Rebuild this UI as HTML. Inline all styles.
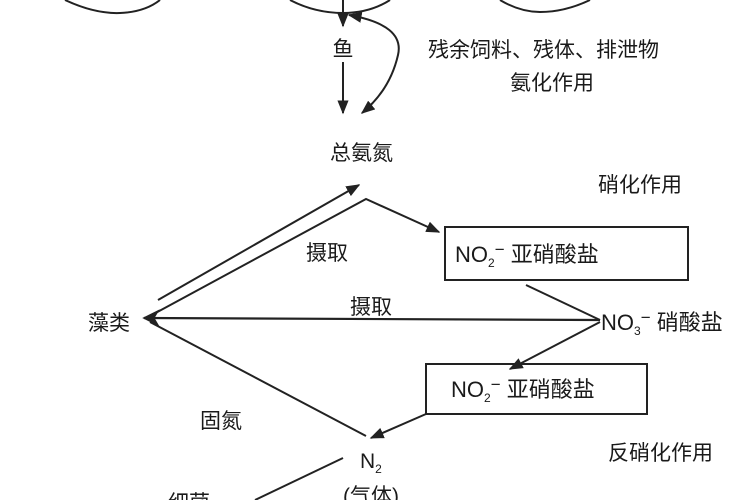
<!DOCTYPE html>
<html><head><meta charset="utf-8"><style>
html,body{margin:0;padding:0;background:#fff;width:750px;height:500px;overflow:hidden}
text{font-family:"Liberation Sans","Noto Sans CJK SC",sans-serif;fill:#1a1a1a}
</style></head><body>
<svg width="750" height="500" viewBox="0 0 750 500" xmlns="http://www.w3.org/2000/svg">
<defs>
<marker id="a" viewBox="0 0 10 10" refX="9" refY="5" markerWidth="7" markerHeight="7" orient="auto-start-reverse"><path d="M0,1 L10,5 L0,9 z" fill="#222"/></marker>
<marker id="b" viewBox="0 0 10 10" refX="9" refY="5" markerWidth="8" markerHeight="8" orient="auto"><path d="M0,0 L10,5 L0,10 L3,5 z" fill="#222"/></marker>
</defs>
<g stroke="#222" stroke-width="2" fill="none">
<path d="M65,0 Q95,14 120,13 Q145,12 160,0"/>
<path d="M290,0 Q315,13 343,13 Q370,13 390,0"/>
<path d="M500,0 Q520,12 540,12 Q565,12 590,0"/>
<line x1="343" y1="0" x2="343" y2="26" marker-end="url(#a)"/>
<line x1="343" y1="62" x2="343" y2="113" marker-end="url(#a)"/>
<path d="M349,15 Q405,25 398,55 Q390,90 362,113" marker-start="url(#a)" marker-end="url(#a)"/>
<line x1="158" y1="300" x2="359" y2="185" marker-end="url(#a)"/>
<polyline points="150,316 366,199 439,232" marker-end="url(#a)"/>
<rect x="445" y="227" width="243" height="53"/>
<line x1="526" y1="285" x2="600" y2="320"/>
<line x1="600" y1="320" x2="144" y2="318" marker-end="url(#b)" stroke-width="2.2"/>
<line x1="600" y1="322" x2="510" y2="369" marker-end="url(#a)"/>
<rect x="426" y="364" width="221" height="50"/>
<line x1="366" y1="436" x2="150" y2="322"/>
<line x1="426" y1="414" x2="371" y2="438" marker-end="url(#a)"/>
<line x1="343" y1="458" x2="255" y2="500"/>
</g>
<g font-size="21">
<text x="343" y="56" text-anchor="middle">鱼</text>
<text x="428" y="57">残余饲料、残体、排泄物</text>
<text x="510" y="90">氨化作用</text>
<text x="330" y="160">总氨氮</text>
<text x="598" y="192">硝化作用</text>
<text x="306" y="260">摄取</text>
<text x="455" y="262" font-size="22">NO<tspan font-size="12" dy="5">2</tspan><tspan dy="-12" font-size="17">−</tspan><tspan dy="7">   亚硝酸盐</tspan></text>
<text x="350" y="314">摄取</text>
<text x="88" y="330">藻类</text>
<text x="601" y="330" font-size="22">NO<tspan font-size="12" dy="5">3</tspan><tspan dy="-12" font-size="17">−</tspan><tspan dy="7">  硝酸盐</tspan></text>
<text x="451" y="397" font-size="22">NO<tspan font-size="12" dy="5">2</tspan><tspan dy="-12" font-size="17">−</tspan><tspan dy="7">  亚硝酸盐</tspan></text>
<text x="200" y="428">固氮</text>
<text x="608" y="460">反硝化作用</text>
<text x="360" y="468">N<tspan font-size="12" dy="5">2</tspan></text>
<text x="343" y="503">(气体)</text>
<text x="168" y="510">细菌</text>
</g>
</svg>
</body></html>
